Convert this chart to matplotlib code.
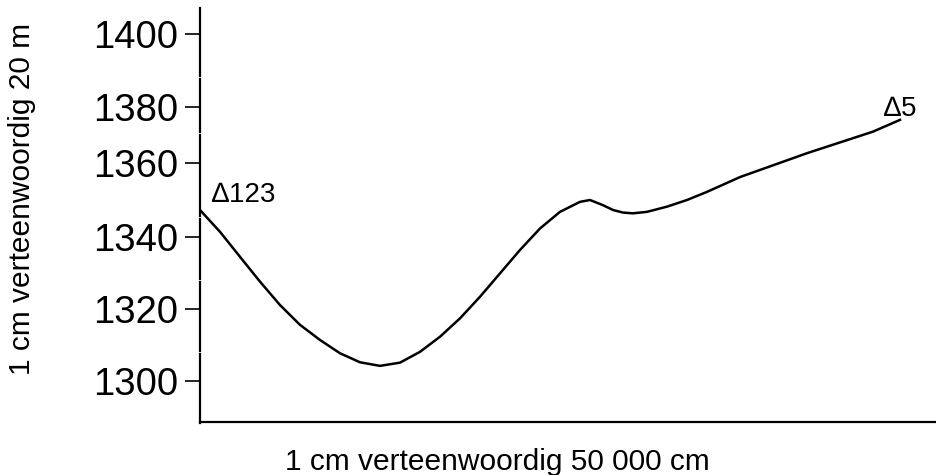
import numpy as np
import matplotlib
matplotlib.use("Agg")
import matplotlib.pyplot as plt

plt.rcParams['font.family'] = ['Liberation Sans', 'DejaVu Sans']

# profile readings: distance along section (map units) and height (m)
dist = [0.0, 2.0, 4.0, 6.0, 8.0, 10.0, 12.0, 14.0, 16.0, 18.0, 20.0, 22.0,
        24.0, 26.0, 28.0, 30.0, 32.0, 34.0, 36.0, 38.0, 39.0, 40.3, 41.3,
        42.3, 43.3, 44.7, 46.7, 48.7, 50.7, 54.0, 60.7, 67.3, 70.0]
height = [1347.3, 1341.4, 1334.5, 1327.6, 1321.1, 1315.6, 1311.4, 1307.7,
          1305.2, 1304.2, 1305.1, 1308.1, 1312.3, 1317.4, 1323.4, 1329.9,
          1336.4, 1342.3, 1346.8, 1349.5, 1350.0, 1348.6, 1347.3, 1346.6,
          1346.4, 1346.8, 1348.2, 1350.0, 1352.2, 1356.2, 1363.5, 1371.2,
          1375.4]

yticks = [1300, 1320, 1340, 1360, 1380, 1400]
# the vertical scale in the source drawing is not evenly spaced
tick_pos = [0, 72, 144, 218, 274, 347]

start_label = "\u2206123"
end_label = "\u22065"
xlabel = "1 cm verteenwoordig 50 000 cm"
ylabel = "1 cm verteenwoordig 20 m"

E = np.array([1280] + yticks + [1420], dtype=float)
P = np.array([-72] + tick_pos + [420], dtype=float)


def fwd(v):
    return np.interp(v, E, P)


def inv(p):
    return np.interp(p, P, E)


fig = plt.figure(figsize=(9.36, 4.75), dpi=100)
ax = fig.add_axes([200 / 936, 1 - 422 / 475, 1 - 200 / 936, 414 / 475])
ax.set_yscale('function', functions=(fwd, inv))

ax.plot(dist, height, color='black', lw=1.8, solid_joinstyle='round')

ax.set_xlim(0, 73.6)
ax.set_ylim(inv(381 - 422), inv(381 - 8))
ax.set_yticks(yticks)
ax.set_yticklabels([str(t) for t in yticks], fontsize=27.5)
ax.set_xticks([])
ax.tick_params(axis='y', length=11, width=1.2, pad=5, direction='out')

for s in ['top', 'right', 'left']:
    ax.spines[s].set_visible(False)
ax.spines['bottom'].set_linewidth(1.6)

# left axis drawn in pieces, as in the original sketch
cuts = [8, 76, 79, 132, 135, 216, 219, 279, 282, 351, 354, 423]
for i in range(0, len(cuts), 2):
    ax.axvline(0, ymin=(422 - cuts[i + 1]) / 414, ymax=(422 - cuts[i]) / 414,
               color='black', lw=1.6, clip_on=False)

ax.annotate(start_label, (dist[0], height[0]), xytext=(9, 6),
            textcoords='offset points', fontsize=20, ha='left', va='baseline')
ax.annotate(end_label, (dist[-1], height[-1]), xytext=(0, 3),
            textcoords='offset points', fontsize=20, ha='center', va='baseline')

fig.text(497 / 936, 1 - 462 / 475, xlabel, fontsize=21.5, ha='center', va='center')
fig.text(22 / 936, 1 - 199 / 475, ylabel, fontsize=21.5, ha='center', va='center',
         rotation=90)

fig.savefig('out.png', dpi=100)
